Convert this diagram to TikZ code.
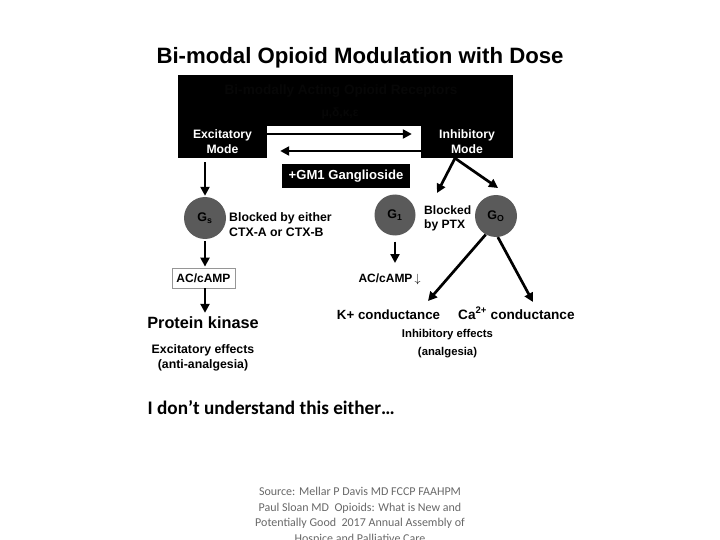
\documentclass[tikz,border=0pt]{standalone}
\usepackage{fontspec}
\setmainfont{Liberation Sans}
\newfontfamily\calfont{Carlito}
\usetikzlibrary{arrows.meta}
\definecolor{circgray}{RGB}{90,90,90}
\definecolor{hdrgray}{RGB}{7,7,7}
\definecolor{srcgray}{RGB}{105,105,105}
\definecolor{boxgray}{RGB}{150,150,150}
\tikzset{
  blk/.style={fill=black, draw=none, inner sep=0pt, text=white,
    font=\bfseries\fontsize{12.2}{15}\selectfont, align=center},
  gcirc/.style={circle, fill=circgray, draw=none, minimum size=42pt, inner sep=0pt,
    font=\bfseries\fontsize{12.5}{14}\selectfont},
  lbl/.style={font=\bfseries\fontsize{12.3}{15}\selectfont, align=left, inner sep=0pt},
  arr/.style={line width=2.7pt, -{Triangle[length=9pt,width=9pt]}},
}
\begin{document}
\begin{tikzpicture}[x=1pt,y=-1pt]
\useasboundingbox[fill=white] (0,0) rectangle (720,540);
% title
\node[font=\bfseries\fontsize{22.2}{24}\selectfont, inner sep=0pt] (title) at (360,57.5)
  {Bi-modal Opioid Modulation with Dose};
% black receptor block
\node[blk, minimum width=335pt, minimum height=51pt] (rec) at (345.5,100.5) {};
\node[blk, minimum width=89pt, minimum height=33pt] (exc) at (222.5,141.5) {Excitatory\\Mode};
\node[blk, minimum width=92pt, minimum height=33pt] (inh) at (467,141.5) {Inhibitory\\Mode};
\node[font=\bfseries\fontsize{13.6}{16}\selectfont, text=hdrgray, inner sep=0pt] (hdr) at (341,91)
  {Bi-modally Acting Opioid Receptors};
\node[font=\bfseries\fontsize{12}{14}\selectfont, text=hdrgray, inner sep=0pt] (greek) at (340,113)
  {μ,δ,κ,ε};
% mode arrows
\draw[arr, shorten >=9pt] ([yshift=7.5pt]exc.east) -- ([yshift=7.5pt]inh.west);
\draw[arr, shorten >=13pt] ([yshift=-9.5pt]inh.west) -- ([yshift=-9.5pt]exc.east);
% GM1
\node[blk, font=\bfseries\fontsize{13.1}{15}\selectfont, minimum width=128pt, minimum height=24pt]
  (gm1) at (346,176) {+GM1 Ganglioside};
% left branch
\node[gcirc] (gs) at (205,218) {G\textsubscript{s}};
\draw[arr, shorten <=4pt, shorten >=1pt] (exc.south -| gs.north) -- (gs.north);
\node[lbl, anchor=west] (gsl) at (229,225) {Blocked by either\\CTX-A or CTX-B};
\node[draw=boxgray, fill=white, line width=0.8pt, minimum width=63pt, minimum height=20pt,
  inner sep=0pt, font=\bfseries\fontsize{12}{14}\selectfont] (ac) at (203.5,278) {AC/cAMP};
\draw[arr, shorten <=2pt, shorten >=1pt] (gs.south) -- (gs.south |- ac.north);
\node[font=\bfseries\fontsize{16.3}{18}\selectfont, inner sep=0pt] (pk) at (203,323) {Protein kinase};
\draw[arr, shorten >=4pt] (ac.south -| gs.south) -- (pk.north -| gs.south);
\node[lbl, align=center] (exe) at (203,357.5) {Excitatory effects\\(anti-analgesia)};
% right branch
\coordinate (apex) at ([xshift=-12pt]inh.south);
\coordinate (e1) at (437,193);
\coordinate (e2) at (498,188);
\draw[arr] (apex) -- (e1);
\draw[arr] (apex) -- (e2);
\node[gcirc, minimum size=41pt] (g1) at (395,215) {G\textsubscript{1}};
\node[gcirc] (go) at (496,216) {G\textsubscript{O}};
\node[lbl, anchor=west, font=\bfseries\fontsize{12.1}{14}\selectfont] (ptx) at (424,218.5) {Blocked\\by PTX};
\coordinate (g1e) at (395,263);
\draw[arr, shorten <=6pt] (g1.south) -- (g1e);
\node[font=\bfseries\fontsize{12}{14}\selectfont, inner sep=0pt] (ac2) at (389.5,279)
  {AC/cAMP\,$\big\downarrow$};
\coordinate (ke) at (428,301);
\coordinate (cae) at (533,302);
\draw[arr] (go.241) -- (ke);
\draw[arr] (go.275) -- (cae);
\node[font=\bfseries\fontsize{13.3}{15}\selectfont, inner sep=0pt, anchor=base] (kc) at (388.5,319) {K+ conductance};
\begin{scope}
\clip (0,0) rectangle (575,540);
\node[font=\bfseries\fontsize{13.6}{15}\selectfont, inner sep=0pt, anchor=base west] (cac) at (458,319)
  {Ca\textsuperscript{2+} conductance};
\end{scope}
\node[lbl, align=center, font=\bfseries\fontsize{11.3}{17.5}\selectfont] (ie) at (447.5,343.5)
  {Inhibitory effects\\(analgesia)};
% comment
\node[font=\calfont\bfseries\fontsize{19.2}{21}\selectfont, anchor=west, inner sep=0pt] (q) at (147.5,408)
  {I don’t understand this either…};
% source
\node[font=\calfont\fontsize{12}{15.5}\selectfont, text=srcgray, align=center, inner sep=0pt] (src) at (360,516)
  {Source: Mellar P Davis MD FCCP FAAHPM\\Paul Sloan MD\ \ Opioids: What is New and\\Potentially Good\ \ 2017 Annual Assembly of\\Hospice and Palliative Care};
\end{tikzpicture}
\end{document}
